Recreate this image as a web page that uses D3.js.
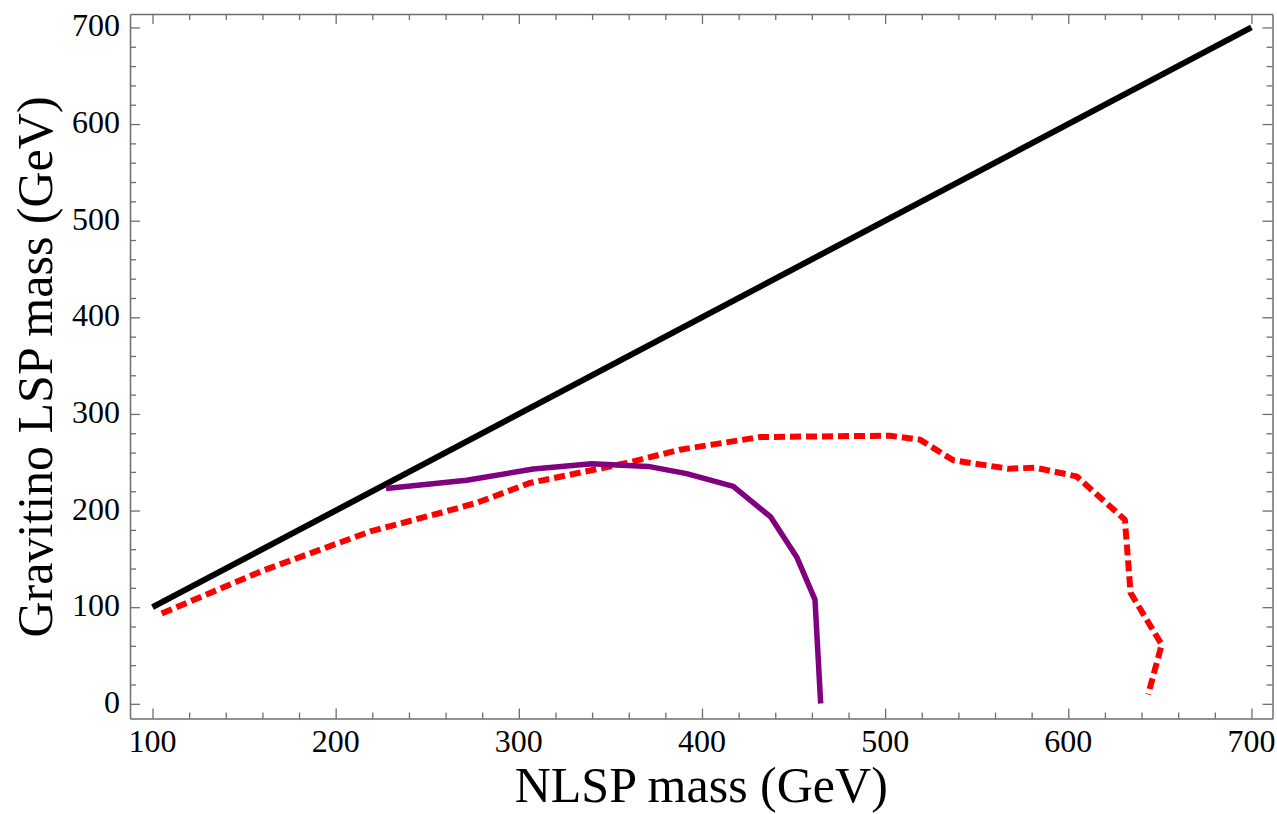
<!DOCTYPE html>
<html>
<head>
<meta charset="utf-8">
<script src="https://cdn.jsdelivr.net/npm/d3@7"></script>
<style>
  html, body { margin: 0; padding: 0; background: #fff; }
  svg { display: block; }
  text { font-family: "Liberation Serif", "Times New Roman", serif; fill: #000; }
</style>
</head>
<body>
<svg id="chart" width="1277" height="814"></svg>
<script>
// Kinematic boundary m_LSP = m_NLSP
const diagX = [100, 700];
const diagY = [100, 700];

// Purple exclusion contour (solid)
const purpleX = [227.5, 271.5, 307.9, 339.8, 370.7, 391.6, 417.1, 437.5, 451.7, 461.7, 464.8];
const purpleY = [222.8, 231.3, 243.0, 248.5, 245.7, 238.2, 225.0, 193.4, 152.0, 107.9, 0.3];

// Red exclusion contour (dashed)
const redX = [105.0, 160.5, 219.0, 257.0, 277.0, 306.1, 358.9, 388.0, 431.7, 502.6, 519.0, 537.2, 567.2, 581.8, 604.5, 630.9, 634.0, 651.0, 643.6];
const redY = [93.4, 138.0, 178.5, 197.5, 208.0, 228.6, 249.2, 263.0, 276.1, 277.5, 273.4, 252.0, 243.3, 244.4, 235.4, 190.6, 114.8, 61.3, 9.6];

// Axis ticks
const xMajor = [100, 200, 300, 400, 500, 600, 700];
const yMajor = [0, 100, 200, 300, 400, 500, 600, 700];
const xMinor = d3.range(100, 701, 20);
const yMinor = d3.range(0, 701, 20);

const xTitle = "NLSP mass (GeV)";
const yTitle = "Gravitino LSP mass (GeV)";

const svg = d3.select("#chart");
const plotLeft = 130, plotRight = 1272.5, plotTop = 14, plotBottom = 718.5;

const x = d3.scaleLinear().domain([87.7, 711.5]).range([plotLeft, plotRight]);
const y = d3.scaleLinear().domain([-15.2, 713.9]).range([plotBottom, plotTop]);

const frameColor = "#6e6e6e";

// Curves
const line = d3.line().x(d => x(d[0])).y(d => y(d[1]));

svg.append("path")
  .attr("d", line(d3.zip(diagX, diagY)))
  .attr("fill", "none").attr("stroke", "#000").attr("stroke-width", 6);

svg.append("path")
  .attr("d", line(d3.zip(redX, redY)))
  .attr("fill", "none").attr("stroke", "#ff0000").attr("stroke-width", 6)
  .attr("stroke-dasharray", "11,5").attr("stroke-linejoin", "round");

svg.append("path")
  .attr("d", line(d3.zip(purpleX, purpleY)))
  .attr("fill", "none").attr("stroke", "#800080").attr("stroke-width", 5.5)
  .attr("stroke-linejoin", "round");

// Frame axes with inward ticks on all four sides
function styleAxis(g) {
  g.select(".domain").attr("stroke", frameColor).attr("stroke-width", 1.5);
  g.selectAll(".tick line").attr("stroke", frameColor).attr("stroke-width", 1.3);
  g.selectAll(".tick text").remove();
}

// bottom
const gB = svg.append("g").attr("transform", `translate(0,${plotBottom})`)
  .call(d3.axisBottom(x).tickValues(xMinor).tickSize(-6).tickSizeOuter(0).tickFormat(""));
styleAxis(gB);
gB.selectAll(".tick line").filter(d => xMajor.includes(d)).attr("y2", -10);

// top
const gT = svg.append("g").attr("transform", `translate(0,${plotTop})`)
  .call(d3.axisTop(x).tickValues(xMinor).tickSize(-6).tickSizeOuter(0).tickFormat(""));
styleAxis(gT);
gT.selectAll(".tick line").filter(d => xMajor.includes(d)).attr("y2", 10);

// left
const gL = svg.append("g").attr("transform", `translate(${plotLeft},0)`)
  .call(d3.axisLeft(y).tickValues(yMinor).tickSize(-6).tickSizeOuter(0).tickFormat(""));
styleAxis(gL);
gL.selectAll(".tick line").filter(d => yMajor.includes(d)).attr("x2", 10);

// right
const gR = svg.append("g").attr("transform", `translate(${plotRight},0)`)
  .call(d3.axisRight(y).tickValues(yMinor).tickSize(-6).tickSizeOuter(0).tickFormat(""));
styleAxis(gR);
gR.selectAll(".tick line").filter(d => yMajor.includes(d)).attr("x2", -10);

// Tick labels
svg.append("g").selectAll("text").data(xMajor).join("text")
  .attr("x", d => x(d)).attr("y", 752)
  .attr("text-anchor", "middle").attr("font-size", 32)
  .text(d => d);

svg.append("g").selectAll("text").data(yMajor).join("text")
  .attr("x", 120).attr("y", d => y(d) + 9)
  .attr("text-anchor", "end").attr("font-size", 32)
  .text(d => d);

// Axis titles
svg.append("text")
  .attr("x", (plotLeft + plotRight) / 2).attr("y", 802)
  .attr("text-anchor", "middle").attr("font-size", 50)
  .text(xTitle);

svg.append("text")
  .attr("transform", `translate(52,367) rotate(-90)`)
  .attr("text-anchor", "middle").attr("font-size", 50)
  .text(yTitle);
</script>
</body>
</html>
